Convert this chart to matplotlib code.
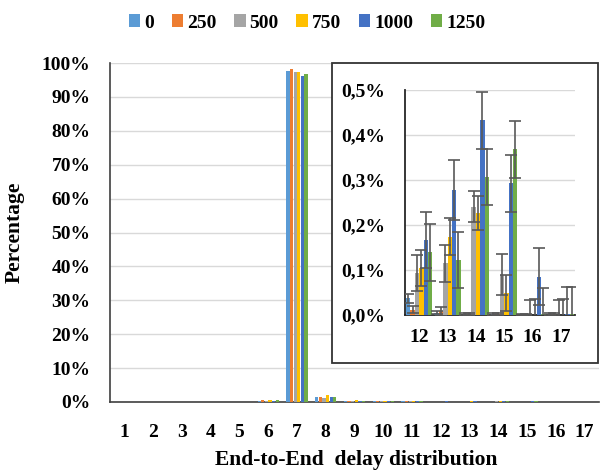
import matplotlib
matplotlib.use("Agg")
import matplotlib.pyplot as plt
import numpy as np
from matplotlib.patches import Rectangle

plt.rcParams['font.family'] = ['Liberation Serif', 'DejaVu Serif']
plt.rcParams['font.weight'] = 'bold'

series = ['0', '250', '500', '750', '1000', '1250']
colors = ['#5B9BD5', '#ED7D31', '#A5A5A5', '#FFC000', '#4472C4', '#70AD47']
categories = [str(i) for i in range(1, 18)]

# main chart values (%), categories 1..17
v0    = [0, 0, 0, 0, 0, 0.4, 97.6, 1.5, 0.4, 0.3, 0.3, 0.037, 0.005, 0.002, 0.002, 0.0005, 0.002]
v250  = [0, 0, 0, 0, 0, 0.5, 98.2, 1.5, 0.3, 0.3, 0.3, 0.012, 0.008, 0.002, 0.002, 0.0005, 0.002]
v500  = [0, 0, 0, 0, 0, 0.4, 97.3, 1.1, 0.4, 0.3, 0.3, 0.093, 0.115, 0.241, 0.090, 0.001, 0.001]
v750  = [0, 0, 0, 0, 0, 0.5, 97.3, 2.0, 0.5, 0.4, 0.3, 0.104, 0.174, 0.226, 0.050, 0.001, 0.001]
v1000 = [0, 0, 0, 0, 0, 0.4, 96.3, 1.5, 0.3, 0.3, 0.4, 0.167, 0.278, 0.433, 0.293, 0.085, 0.003]
v1250 = [0, 0, 0, 0, 0, 0.5, 96.8, 1.5, 0.4, 0.3, 0.3, 0.139, 0.122, 0.307, 0.368, 0.003, 0.003]
main_vals = [v0, v250, v500, v750, v1000, v1250]

# inset: categories 12..17 (%), with error bars
inset_cats = ['12', '13', '14', '15', '16', '17']
e0    = [0.010, 0.003, 0.002, 0.002, 0.001, 0.003]
e250  = [0.008, 0.010, 0.002, 0.002, 0.001, 0.003]
e500  = [0.040, 0.041, 0.035, 0.046, 0.033, 0.033]
e750  = [0.040, 0.041, 0.038, 0.040, 0.035, 0.035]
e1000 = [0.063, 0.067, 0.063, 0.063, 0.063, 0.060]
e1250 = [0.063, 0.063, 0.063, 0.063, 0.057, 0.060]
inset_errs = [e0, e250, e500, e750, e1000, e1250]

fig = plt.figure(figsize=(6.07, 4.71), dpi=100)
ax = fig.add_axes([110/607, 1-402/471, 489/607, 339/471])

n = len(series)
x = np.arange(len(categories))
w = 0.125
for i, (vals, c) in enumerate(zip(main_vals, colors)):
    ax.bar(x + (i - (n-1)/2)*w, vals, width=w*0.9, color=c, label=series[i], zorder=3)

ax.set_xlim(-0.5, len(categories)-0.5)
ax.set_ylim(0, 100)
ax.set_yticks(np.arange(0, 101, 10))
ax.set_yticklabels([f'{t}%' for t in range(0, 101, 10)], fontsize=14, fontweight='bold')
ax.set_xticks(x)
ax.set_xticklabels(categories, fontsize=14, fontweight='bold')
ax.tick_params(axis='y', length=0, pad=14)
ax.tick_params(axis='x', length=0, pad=16)
ax.grid(axis='y', color='#D9D9D9', linewidth=1, zorder=0)
for s in ['top', 'right']:
    ax.spines[s].set_visible(False)
for s in ['left', 'bottom']:
    ax.spines[s].set_color('#404040')
    ax.spines[s].set_linewidth(1.2)
ax.set_ylabel('Percentage', fontsize=15.5, fontweight='bold')
ax.yaxis.set_label_coords(25/607, 0.5, transform=fig.transFigure)
ax.yaxis.label.set_position((25/607, 1-232/471))
ax.set_xlabel('End-to-End  delay distribution', fontsize=15.5, fontweight='bold')
ax.xaxis.set_label_coords(356/607, 1-460/471, transform=fig.transFigure)
ax.xaxis.label.set_va('center')

fig.legend(*ax.get_legend_handles_labels(), loc='center', bbox_to_anchor=(307/607, 1-23/471),
           ncol=6, frameon=False, handlelength=0.6, handleheight=0.6,
           handletextpad=0.2, columnspacing=0.9, prop={'weight': 'bold', 'size': 14})

# inset frame
frame = Rectangle((332/607, 1-363/471), 266/607, 300/471, transform=fig.transFigure,
                  facecolor='white', edgecolor='#333333', linewidth=1.3, zorder=5)
fig.patches.append(frame)

ins = fig.add_axes([405/607, 1-315/471, 170/607, 225/471])
ins.set_zorder(6)
xi = np.arange(len(inset_cats))
wi = 0.155
for i, (vals, errs, c) in enumerate(zip(main_vals, inset_errs, colors)):
    ins.bar(xi + (i - (n-1)/2)*wi, vals[11:], width=wi, color=c, zorder=3,
            yerr=errs, error_kw=dict(ecolor='#595959', elinewidth=1.2, capsize=4, capthick=1.2, zorder=4))
ins.set_xlim(-0.5, len(inset_cats)-0.5)
ins.set_ylim(0, 0.5)
ins.set_yticks(np.arange(0, 0.51, 0.1))
ins.set_yticklabels(['0,0%', '0,1%', '0,2%', '0,3%', '0,4%', '0,5%'], fontsize=14, fontweight='bold')
ins.set_xticks(xi)
ins.set_xticklabels(inset_cats, fontsize=14, fontweight='bold')
ins.tick_params(length=0, pad=10)
ins.tick_params(axis='y', pad=14)
ins.grid(axis='y', color='#D9D9D9', linewidth=1, zorder=0)
for s in ['top', 'right']:
    ins.spines[s].set_visible(False)
for s in ['left', 'bottom']:
    ins.spines[s].set_color('#262626')
    ins.spines[s].set_linewidth(1.3)

fig.savefig('out.png', dpi=100)
